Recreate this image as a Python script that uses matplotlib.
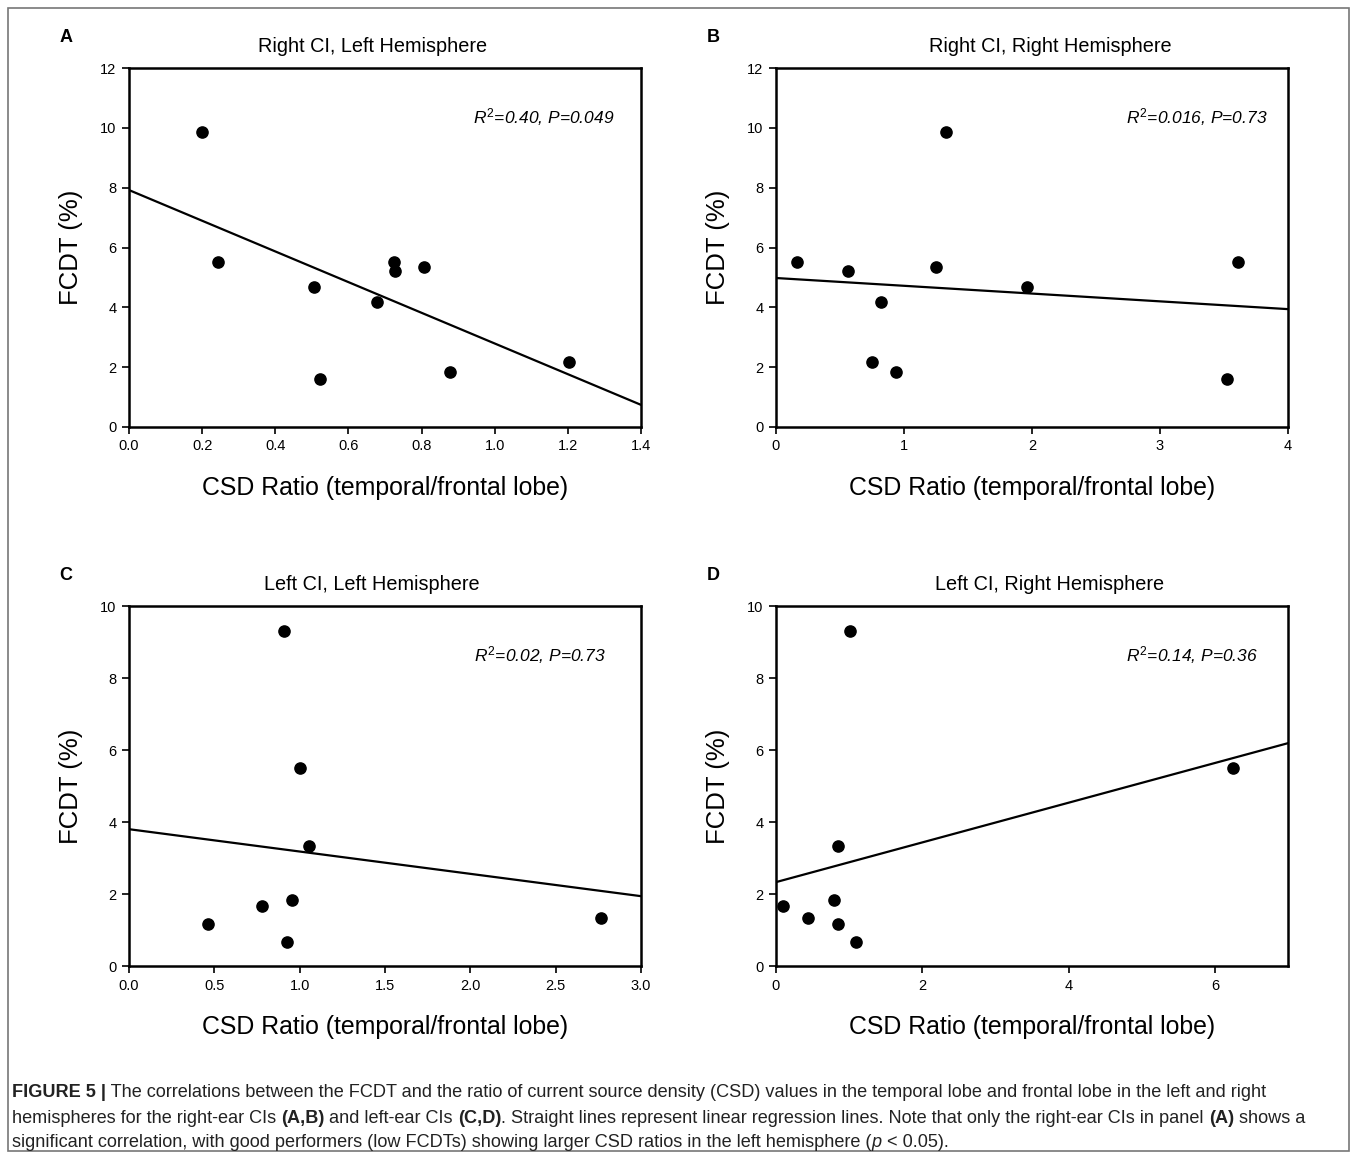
import numpy as np
import matplotlib
matplotlib.use("Agg")
import matplotlib.pyplot as plt
from matplotlib.patches import Rectangle

plt.rcParams["font.family"] = ["Liberation Sans", "DejaVu Sans"]
plt.rcParams["mathtext.fontset"] = "custom"
plt.rcParams["mathtext.it"] = "Liberation Sans:italic"
plt.rcParams["mathtext.rm"] = "Liberation Sans"

# Panel A: right CI, left hemisphere
a_x = [0.20, 0.243, 0.506, 0.522, 0.678, 0.725, 0.727, 0.807, 0.878, 1.203]
a_y = [9.86, 5.51, 4.68, 1.60, 4.18, 5.51, 5.21, 5.35, 1.84, 2.17]
a_line = [7.92, 0.74]   # regression line at the left / right axis limits

# Panel B: right CI, right hemisphere
b_x = [0.164, 0.5625, 0.82, 0.75, 0.9375, 1.25, 1.33, 1.96, 3.52, 3.61]
b_y = [5.51, 5.21, 4.18, 2.17, 1.84, 5.35, 9.86, 4.68, 1.60, 5.51]
b_line = [4.98, 3.94]

# Panel C: left CI, left hemisphere
c_x = [0.908, 1.0, 1.055, 0.463, 0.78, 0.955, 0.926, 2.766]
c_y = [9.31, 5.5, 3.33, 1.17, 1.67, 1.83, 0.67, 1.33]
c_line = [3.80, 1.94]

# Panel D: left CI, right hemisphere
d_x = [1.01, 0.85, 0.79, 0.096, 0.4375, 0.85, 1.09, 6.25]
d_y = [9.31, 3.33, 1.83, 1.67, 1.33, 1.17, 0.67, 5.5]
d_line = [2.33, 6.19]

panels = [
    ("A", "Right CI, Left Hemisphere", a_x, a_y, a_line, (0, 1.4), np.arange(0, 1.41, 0.2), "%.1f",
     (0, 12), np.arange(0, 13, 2), "$R^2$=0.40, $P$=0.049"),
    ("B", "Right CI, Right Hemisphere", b_x, b_y, b_line, (0, 4), np.arange(0, 5, 1), "%d",
     (0, 12), np.arange(0, 13, 2), "$R^2$=0.016, $P$=0.73"),
    ("C", "Left CI, Left Hemisphere", c_x, c_y, c_line, (0, 3), np.arange(0, 3.01, 0.5), "%.1f",
     (0, 10), np.arange(0, 11, 2), "$R^2$=0.02, $P$=0.73"),
    ("D", "Left CI, Right Hemisphere", d_x, d_y, d_line, (0, 7), np.arange(0, 7, 2), "%d",
     (0, 10), np.arange(0, 11, 2), "$R^2$=0.14, $P$=0.36"),
]

W, H = 1357, 1159
fig = plt.figure(figsize=(W / 100, H / 100), dpi=100)

# axes boxes in pixels: left, top, right, bottom
boxes = [(129, 68, 641, 427), (776, 68, 1288, 427), (129, 606, 641, 966), (776, 606, 1288, 966)]
title_x = [0.475, 0.535, 0.475, 0.535]
note_x = [0.949, 0.961, 0.932, 0.941]

for i, (letter, title, xs, ys, line, xlim, xticks, fmt, ylim, yticks, note) in enumerate(panels):
    l, t, r, b = boxes[i]
    ax = fig.add_axes([l / W, 1 - b / H, (r - l) / W, (b - t) / H])
    ax.scatter(xs, ys, s=65, color="black", zorder=3, clip_on=False)
    ax.plot(xlim, line, color="black", lw=1.6)
    ax.set_xlim(*xlim)
    ax.set_ylim(*ylim)
    ax.set_xticks(xticks)
    ax.set_xticklabels([fmt % v for v in xticks])
    ax.set_yticks(yticks)
    ax.tick_params(direction="out", length=5, width=1.2, labelsize=10.5, colors="black", pad=4)
    for s in ax.spines.values():
        s.set_linewidth(1.8)
    ax.set_xlabel("CSD Ratio (temporal/frontal lobe)", fontsize=17.9, labelpad=16)
    ax.set_ylabel("FCDT (%)", fontsize=18.5, labelpad=12)
    ax.text(title_x[i], 1.0 + 21 / (b - t), title, transform=ax.transAxes, ha="center", va="center",
            fontsize=14.3)
    ax.text(note_x[i], 0.864, note, transform=ax.transAxes, ha="right", va="center",
            fontsize=12.5, style="italic")
    fig.text((l - 63) / W, 1 - (t - 31) / H, letter, fontsize=13, fontweight="bold",
             ha="center", va="center")

# outer frame
fig.add_artist(Rectangle((8 / W, 8 / H), 1341 / W, 1143 / H, transform=fig.transFigure,
                         fill=False, edgecolor="#777777", lw=1.2))

# caption with mixed styles
caption = [
    [("FIGURE 5 |", "bold", "normal"),
     (" The correlations between the FCDT and the ratio of current source density (CSD) values in the temporal lobe and frontal lobe in the left and right", "normal", "normal")],
    [("hemispheres for the right-ear CIs ", "normal", "normal"), ("(A,B)", "bold", "normal"),
     (" and left-ear CIs ", "normal", "normal"), ("(C,D)", "bold", "normal"),
     (". Straight lines represent linear regression lines. Note that only the right-ear CIs in panel ", "normal", "normal"),
     ("(A)", "bold", "normal"), (" shows a", "normal", "normal")],
    [("significant correlation, with good performers (low FCDTs) showing larger CSD ratios in the left hemisphere (", "normal", "normal"),
     ("p", "normal", "italic"), (" < 0.05).", "normal", "normal")],
]
line_y = [1097, 1123, 1147]
fig.canvas.draw()
renderer = fig.canvas.get_renderer()
for segs, yy in zip(caption, line_y):
    x = 12
    for txt, weight, style in segs:
        tt = fig.text(x / W, 1 - yy / H, txt, fontsize=13.1, fontweight=weight, style=style,
                      ha="left", va="baseline", color="#222222")
        bb = tt.get_window_extent(renderer=renderer)
        x += bb.width

fig.savefig("out.png", dpi=100)
